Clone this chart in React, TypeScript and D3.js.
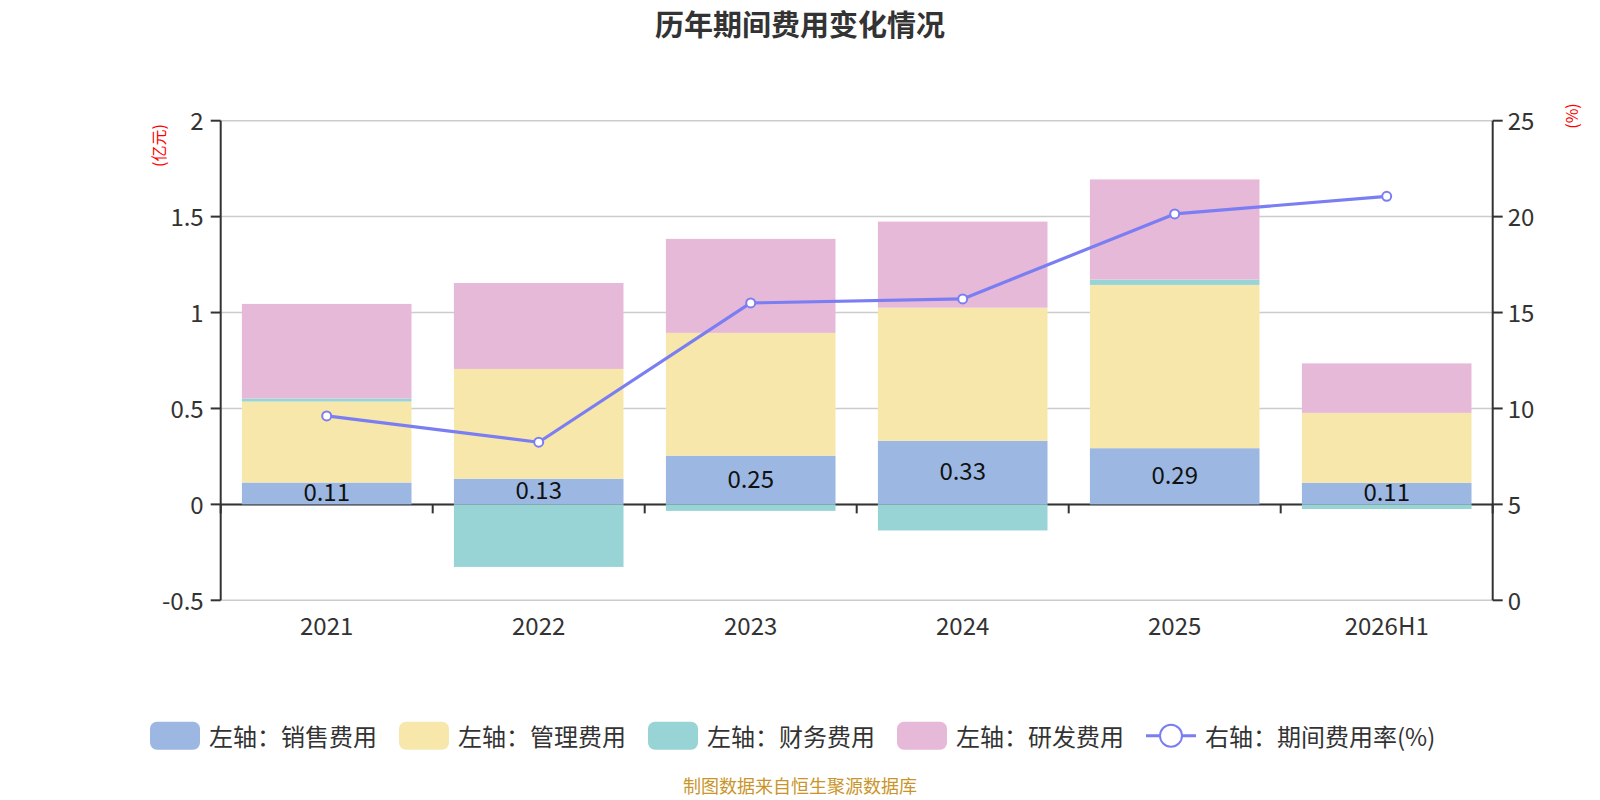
import { useMemo } from 'react';
import * as d3 from 'd3';

// values in 亿元
const CATEGORIES = ['2021', '2022', '2023', '2024', '2025', '2026H1'];
const SALES = [0.114, 0.134, 0.254, 0.332, 0.293, 0.113];
const ADMIN = [0.422, 0.572, 0.64, 0.693, 0.851, 0.364];
const FINANCE = [0.016, -0.326, -0.034, -0.136, 0.028, -0.024];
const RND = [0.493, 0.448, 0.49, 0.449, 0.522, 0.258];
const RATE = [9.61, 8.24, 15.5, 15.71, 20.14, 21.06];

const LEFT_TICKS = [-0.5, 0, 0.5, 1, 1.5, 2];
const RIGHT_TICKS = [0, 5, 10, 15, 20, 25];

const SERIES_NAMES = ['左轴：销售费用', '左轴：管理费用', '左轴：财务费用', '左轴：研发费用'];
const LINE_NAME = '右轴：期间费用率(%)';
const KEYS = ['sales', 'admin', 'finance', 'rnd'] as const;
const COLORS = ['#9cb8e2', '#f8e7aa', '#98d4d5', '#e7b9d8'];
const LINE_COLOR = '#7a7ef2';

const W = 1600;
const H = 800;
const PLOT = { left: 220.7, right: 1492.7, top: 120.7, bottom: 600.3 };
const FONT = "'Noto Sans CJK SC', 'Noto Sans', sans-serif";
const TEXT = '#333';

type Row = { cat: string; sales: number; admin: number; finance: number; rnd: number };

export default function App() {
  const chart = useMemo(() => {
    const rows: Row[] = CATEGORIES.map((cat, i) => ({
      cat,
      sales: SALES[i],
      admin: ADMIN[i],
      finance: FINANCE[i],
      rnd: RND[i],
    }));

    const x = d3.scaleBand<string>()
      .domain(CATEGORIES)
      .range([PLOT.left, PLOT.right])
      .paddingInner(0.2)
      .paddingOuter(0.1);

    const yL = d3.scaleLinear().domain([-0.5, 2]).range([PLOT.bottom, PLOT.top]);
    const yR = d3.scaleLinear().domain([0, 25]).range([PLOT.bottom, PLOT.top]);

    const stack = d3.stack<Row>()
      .keys(KEYS as unknown as string[])
      .offset(d3.stackOffsetDiverging);
    const layers = stack(rows);

    const cx = (c: string) => (x(c) ?? 0) + x.bandwidth() / 2;
    const line = d3.line<number>()
      .x((_, i) => cx(CATEGORIES[i]))
      .y((d) => yR(d));

    // category boundaries for the x tick marks
    const catW = (PLOT.right - PLOT.left) / CATEGORIES.length;
    const boundaries = d3.range(CATEGORIES.length + 1).map((i) => PLOT.left + i * catW);

    return { x, yL, yR, layers, cx, linePath: line(RATE) ?? '', boundaries };
  }, []);

  const { x, yL, yR, layers, cx, linePath, boundaries } = chart;
  const zeroY = yL(0);

  // legend layout
  const legendY = 735.7;
  const iconW = 50;
  const iconH = 28;
  const fontSize = 24;
  let lx = 150;
  const legendItems = [...SERIES_NAMES, LINE_NAME].map((name, i) => {
    const item = { name, i, x: lx };
    const textW = name === LINE_NAME ? fontSize * 7 + 40 : fontSize * name.length;
    lx += iconW + 9 + textW + 22;
    return item;
  });

  return (
    <div style={{ position: 'absolute', left: 0, top: 0 }}>
      <svg width={W} height={H} viewBox={`0 0 ${W} ${H}`} style={{ display: 'block', background: '#fff' }}>
        {/* title */}
        <text x={800} y={23} textAnchor="middle" dominantBaseline="central" fontSize={29} fontWeight="bold" fill={TEXT} fontFamily={FONT}>
          历年期间费用变化情况
        </text>

        {/* grid lines */}
        {LEFT_TICKS.map((t) => (
          <line key={t} x1={PLOT.left} x2={PLOT.right} y1={yL(t)} y2={yL(t)} stroke="#cccccc" strokeWidth={1.5} />
        ))}

        {/* x axis line at zero + boundary ticks */}
        <line x1={PLOT.left} x2={PLOT.right} y1={zeroY} y2={zeroY} stroke={TEXT} strokeWidth={2} />
        {boundaries.map((bx, i) => (
          <line key={i} x1={bx} x2={bx} y1={zeroY} y2={zeroY + 9} stroke={TEXT} strokeWidth={2} />
        ))}

        {/* stacked bars */}
        {layers.map((layer, li) => (
          <g key={layer.key} fill={COLORS[li]}>
            {layer.map((d, i) => {
              const y0 = yL(d[0]);
              const y1 = yL(d[1]);
              return (
                <rect
                  key={CATEGORIES[i]}
                  x={x(CATEGORIES[i])}
                  y={Math.min(y0, y1)}
                  width={x.bandwidth()}
                  height={Math.abs(y0 - y1)}
                />
              );
            })}
          </g>
        ))}

        {/* left axis */}
        <line x1={PLOT.left} x2={PLOT.left} y1={PLOT.top} y2={PLOT.bottom} stroke={TEXT} strokeWidth={2} />
        {LEFT_TICKS.map((t) => (
          <g key={t}>
            <line x1={PLOT.left - 10} x2={PLOT.left} y1={yL(t)} y2={yL(t)} stroke={TEXT} strokeWidth={2} />
            <text x={PLOT.left - 17} y={yL(t) - 1} textAnchor="end" dominantBaseline="central" fontSize={24} fill={TEXT} fontFamily={FONT}>
              {t}
            </text>
          </g>
        ))}
        <text
          transform={`translate(157.5,145.5) rotate(-90)`}
          textAnchor="middle"
          dominantBaseline="central"
          fontSize={16}
          fill="#ff0000"
          fontFamily={FONT}
        >
          (亿元)
        </text>

        {/* right axis */}
        <line x1={PLOT.right} x2={PLOT.right} y1={PLOT.top} y2={PLOT.bottom} stroke={TEXT} strokeWidth={2} />
        {RIGHT_TICKS.map((t) => (
          <g key={t}>
            <line x1={PLOT.right} x2={PLOT.right + 10} y1={yR(t)} y2={yR(t)} stroke={TEXT} strokeWidth={2} />
            <text x={PLOT.right + 15} y={yR(t) - 1} textAnchor="start" dominantBaseline="central" fontSize={24} fill={TEXT} fontFamily={FONT}>
              {t}
            </text>
          </g>
        ))}
        <text
          transform={`translate(1571,116) rotate(-90)`}
          textAnchor="middle"
          dominantBaseline="central"
          fontSize={16}
          fill="#ff0000"
          fontFamily={FONT}
        >
          (%)
        </text>

        {/* category labels */}
        {CATEGORIES.map((c) => (
          <text key={c} x={cx(c)} y={624} textAnchor="middle" dominantBaseline="central" fontSize={24} fill={TEXT} fontFamily={FONT}>
            {c}
          </text>
        ))}

        {/* sales value labels */}
        {layers[0].map((d, i) => (
          <text
            key={CATEGORIES[i]}
            x={cx(CATEGORIES[i])}
            y={(yL(d[0]) + yL(d[1])) / 2 - 3}
            textAnchor="middle"
            dominantBaseline="central"
            fontSize={24}
            fill="#111"
            fontFamily={FONT}
          >
            {SALES[i].toFixed(2)}
          </text>
        ))}

        {/* rate line */}
        <path d={linePath} fill="none" stroke={LINE_COLOR} strokeWidth={3.2} strokeLinejoin="round" />
        {RATE.map((r, i) => (
          <circle key={i} cx={cx(CATEGORIES[i])} cy={yR(r)} r={4.5} fill="#fff" stroke={LINE_COLOR} strokeWidth={2} />
        ))}

        {/* legend */}
        {legendItems.map((it) => (
          <g key={it.name}>
            {it.i < 4 ? (
              <rect x={it.x} y={legendY - iconH / 2} width={iconW} height={iconH} rx={7} fill={COLORS[it.i]} />
            ) : (
              <g>
                <line x1={it.x} x2={it.x + iconW} y1={legendY} y2={legendY} stroke={LINE_COLOR} strokeWidth={3} />
                <circle cx={it.x + iconW / 2} cy={legendY} r={11} fill="#fff" stroke={LINE_COLOR} strokeWidth={2} />
              </g>
            )}
            <text x={it.x + iconW + 9} y={legendY} dominantBaseline="central" fontSize={fontSize} fill={TEXT} fontFamily={FONT}>
              {it.name}
            </text>
          </g>
        ))}

        {/* source note */}
        <text x={800} y={785} textAnchor="middle" dominantBaseline="central" fontSize={18} fill="#c9952b" fontFamily={FONT}>
          制图数据来自恒生聚源数据库
        </text>
      </svg>
    </div>
  );
}
